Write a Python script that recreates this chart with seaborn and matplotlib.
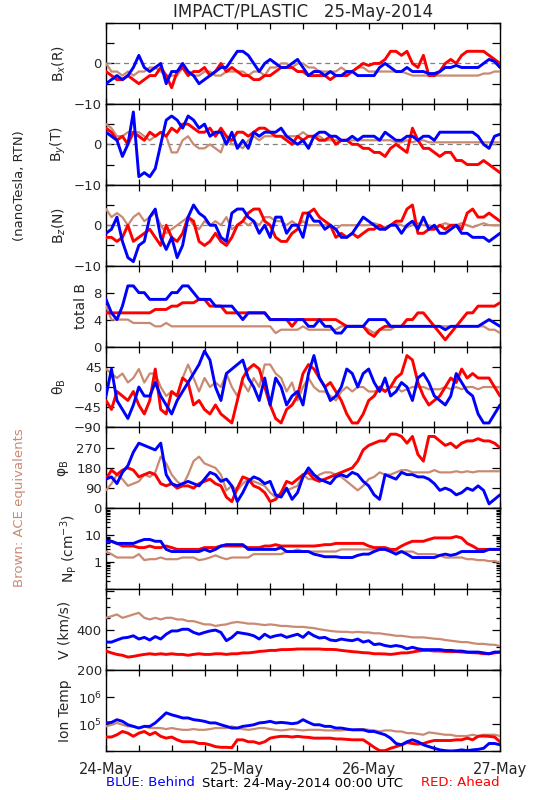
import numpy as np
import matplotlib
matplotlib.use("Agg")
import matplotlib.pyplot as plt
import matplotlib.ticker as mticker
import seaborn as sns

# ---------------- data (hourly readings, 24-May 00:00 .. 27-May 00:00) ----------------
day_labels = ["24-May", "25-May", "26-May", "27-May"]

bx_blue = [-5,-4,-3,-4,-3,-1,2,-1,-2,-1,0,-5,
           -2,-2,0,-2,-3,-5,-4,-3,-2,-1,-1,1,
           3,3,2,0,-2,0,1,0,-1,-1,0,1,
           -1,-3,-2,-2,-3,-2,-3,-3,-2,-2,-3,-3,
           -3,-3,-1,0,-1,-2,-2,-1,-2,-2,-2,-2.5,
           -2.5,-2,-1,-1,-0.5,-1,-1,-1,-1,0,1,0.5,
           -1]
bx_red = [-2,-3,-4,-4,-3,-4,-5,-4,-3,-3,-1,-3,
          -6,-2,-1,-3,-2,-2,-1,-3,-2,0,-2,-1,
          -2,-3,-3,-4,-4,-3,-3,-2,-1,-1,-1,-2,
          -2,-3,-3,-3,-3,-4,-3,-3,-3,-2,-1,0,
          -0.5,0,0,1,3,3,2,3,0,-1,2,-3,
          -3,-2,0,1,0,2,3,3,3,3,2,1,
          0]
bx_brown = [0,-2,-2,-3,-2,-3,-2,-2,-1,-1,-2,-3,
            -3,-3,-1,-2,-3,-3,-2,-2,-3,-3,-2,-2,
            -2,-2,-3,-2,-2,-3,-1,-1,0,0,-1,0,
            0,-1,-1,-2,-2,-2,-2,-1,-2,-2,-1,-1,
            -2,-2,-2,-2,-2,-2,-2,-2.5,-3,-3,-3,-3,
            -3,-3,-3,-3,-3,-3,-3,-3,-3,-2.5,-2.5,-2,
            -2]

by_blue = [3,2,1,-3,0,8,-8,-7,-8,-6,0,6,
           7,6,4,7,6,4,5,2,3,3,0,3,
           -1,1,-1,3,2,3,3,3,4,2,1,0,
           1,-1,2,3,3,2,2,1,1,2,1,2,
           2,2,1,3,2,1,1,2,2,1,2,2,
           1,3,3,3,3,3,3,3,2,0,-1,2,
           2.5]
by_red = [4,3,1,2,0,3,2,1,3,2,3,2,
          4,3,5,5,4,3,3,4,2,4,2,1,
          3,3,2,3,4,4,3,2,2,1,0,2,
          1,2,2,1,1,2,0,1,1,0,0,-1,
          -1,-2,-2,-3,-1,0,-1,-2,4,1,-1,-1,
          -2,-3,-2,-2,-4,-4,-5,-5,-5,-4,-5,-6,
          -7]
by_brown = [5,4,2,2,3,3,3,2,1,2,3,2,
            -2,-2,1,2,0,-1,-1,0,-1,-2,2,0,
            0,-1,1,2,1,2,2,2,2,2,2,2,
            3,2,2,2,1,1,1,1,1,1,1,1,
            1,1,1,1,1,0.5,0.5,1,0.5,1,1,0.5,
            0.5,0.5,0.5,0.5,0.5,0.5,0.5,0.5,0.5,0.5,0.5,0.5,
            0.5]

bz_blue = [-2,-1,2,-4,-8,-9,-5,-4,2,4,-3,-6,
           -3,-8,-5,2,5,3,2,0,0,-3,-4,3,
           4,4,2,1,-2,0,-3,2,2,-2,0,0,
           -3,3,1,1,-1,0,-1,-3,-3,-2,0,2,
           1,0,-1,-1,0,0,-2,0,1,-1,2,-1,
           0,-2,-2,-1,0,-2,-2,-3,-3,-3,-4,-3,
           -2]
bz_red = [-3,-3,-4,-3,0,-4,-3,-2,-1,-3,-5,0,
          -3,-4,-2,2,1,-4,-5,-4,-2,-4,-5,-3,
          0,1,3,4,4,1,0,-3,-4,-4,-2,-1,
          3,3,4,2,1,0,-3,-2,-3,-2,-3,-2,
          -1,-1,0,-1,0,1,1,4,5,-2,-2,-1,
          -1,0,-1,0,0,-1,3,4,2,2,3,2,
          1]
bz_brown = [4,2,3,2,0,2,3,1,2,3,0,-2,
            -1,0,1,2,0,-1,1,0,1,0,2,-1,
            0,1,0,1,0,2,2,1,1,0,1,0,
            1,0,0,0,0,0,-1,0,0,0,0,0,
            0,0.5,0,-0.5,0,0.5,0,-0.5,0,0.5,0,0,
            -0.5,0,0.5,0,0,0.5,0,-0.5,0,0.5,0,0,
            0]

bt_blue = [7,5,4,6,9,9,8,8,7,7,7,7,
           8,8,9,9,8,7,7,7,6,6,6,6,
           5,4,5,5,5,5,4,4,4,4,4,4,
           4,3,3,4,3,3,2,2,3,3,3,3,
           4,4,4,4,3,3,3,3,3,3,3,3,
           3,3,2.5,3,3,3,3,3,3,3.5,4,3.5,
           3]
bt_red = [5,5,5,5,5,5,5,5,5,5.5,5.5,5.5,
          6,6,6.5,6.5,6.5,7,7,6,6,6,5,5,
          5,5,5,5,5,5,4,4,4,4,3,4,
          4,4,4,4,4,4,4,3.5,3,3,3,3,
          2,1.5,2.5,3,3,3,3,4,4,5,5,4,
          3,2,1,2,3,4,5,5,6,6,6,6,
          6.5]
bt_brown = [6,4,4,4,4,3.5,3.5,3.5,3.5,3,3,3.5,
            3,3,3,3,3,3,3,3,3,3,3,3,
            3,3,3,3,3,3,3,2,2.5,2.5,2.5,2.5,
            3,2.5,2.5,2.5,2.5,2.5,2.5,3,3,3,3,3,
            2.5,2,2.5,2.5,2.5,3,3,3,3,3,3,3,
            3,3,3,3,3,3,3,3,3,3,2.5,2.5,
            2]

th_blue = [-20,40,-30,-50,-70,-40,0,-20,-20,10,-20,-40,
           -60,-30,-10,10,30,50,80,60,0,-30,30,40,
           50,60,20,0,-30,20,-40,20,0,-40,-20,-10,
           -40,30,70,20,0,-30,-20,0,40,30,0,30,
           40,10,-10,20,-20,-10,10,0,-30,20,30,10,
           -20,-30,-40,-20,30,10,-10,-20,-60,-80,-80,-60,
           -40]
th_red = [-30,-50,-10,-20,-30,-10,-40,-60,-30,40,-50,-60,
          -10,-20,20,10,-40,-30,-50,-60,-40,-60,-70,-80,
          -30,20,40,50,40,0,-40,-70,-80,-50,-40,-20,
          30,50,40,20,0,10,-10,-30,-60,-80,-80,-60,
          -30,-20,0,-10,0,20,30,70,60,10,-20,-40,
          -30,-20,0,20,10,40,20,30,20,20,20,0,
          -20]
th_brown = [40,30,20,30,10,20,40,10,30,30,0,-20,
            -10,-20,20,50,20,-10,20,0,10,0,30,0,
            -20,10,-10,20,0,50,50,30,20,-10,10,-30,
            0,20,0,-10,-10,-20,-30,-10,0,-10,0,0,
            -10,-10,-5,-10,0,0,-10,-5,0,0,0,-5,
            -5,-5,0,-5,0,-5,0,0,-5,0,0,0,
            0]

ph_blue = [130,140,110,160,190,250,290,280,270,260,290,150,
           110,100,110,120,110,100,130,160,150,120,130,100,
           30,70,120,140,130,110,120,60,50,90,40,70,
           140,180,150,130,120,110,140,150,140,160,150,120,
           100,60,40,150,140,130,160,150,150,140,140,130,
           110,80,90,80,60,70,90,80,100,80,20,40,
           60]
ph_red = [130,170,150,170,180,170,140,150,160,150,110,100,
          110,90,100,100,90,110,120,130,110,100,50,30,
          90,140,130,100,90,70,30,40,70,120,110,130,
          150,160,130,120,130,140,150,160,170,180,210,260,
          280,290,300,300,330,330,320,290,320,240,210,320,
          320,300,280,290,270,290,300,300,310,300,300,290,
          270]
ph_brown = [80,110,150,130,100,110,120,150,140,160,230,200,
            150,120,100,150,210,230,200,190,180,150,80,100,
            80,110,130,120,110,100,70,50,60,80,90,100,
            150,130,130,150,160,160,150,140,120,100,80,100,
            130,140,160,150,150,160,170,170,160,160,160,160,
            170,160,160,160,165,160,165,160,165,165,165,165,
            165]

np_blue = [6,6,5,5,5,5,6,7,7,6,6,3,
           2.5,2.5,2.5,2.5,2.5,2.5,3,2.5,3,4,4.5,4.5,
           4.5,4.5,3,3,3,3,3,3,3.5,2.5,2.5,2.5,
           2.5,2.5,2,1.8,1.6,1.6,1.6,1.5,1.5,1.5,1.8,2,
           2,2.5,3,3,2.5,2,2.5,2,1.5,1.5,1.5,1.5,
           1.5,1.8,2,1.8,2,2.5,2.5,2.5,2.5,2.5,3,3,
           3]
np_red = [6,6,5,4,4,4,3.5,3.5,4,3.5,3.5,4,
          3.5,3,3,3,3,3,3.5,3.5,3.5,4,4,4,
          4,4,3.5,3.5,3.5,4,4,4.5,4,4,4,4,
          4,4,4,4.2,4.5,4.5,5,5,5,5,5,5,
          4,3.5,3.5,3.5,3,3,4,5,6,6,6,7,
          8,8,8,8,9,8,5,4,3,3,3,3,
          3]
np_brown = [2.5,2,1.5,1.5,1.5,1.5,2,1.2,1.3,1.3,1.5,1.3,
            1.3,1.3,1.5,1.5,1.5,1.2,1.3,1.5,1.8,1.5,1.3,1.5,
            1.5,1.5,1.5,2,2,2,2,2,2,2.5,2.5,3,
            2.5,2.5,2.5,2.5,2.5,2.5,2.5,3,3,3,3,3,
            3,3,3,3,3,2.5,2.5,2.5,2.5,2,2,2,
            2,1.8,1.5,1.5,1.5,1.5,1.3,1.3,1.2,1.2,1.1,1.1,
            1]

v_brown = [498,512,528,498,512,528,543,498,484,498,484,498,
           498,484,484,470,470,457,444,444,432,439,444,457,
           463,457,450,450,444,439,444,439,432,432,427,425,
           425,420,416,408,402,396,392,390,390,386,390,386,
           386,380,380,374,370,364,364,359,354,354,354,350,
           346,344,338,334,330,326,326,320,316,316,312,311,
           304]
v_blue = [326,326,338,350,354,364,344,354,338,359,344,374,
          396,396,408,408,386,374,386,396,402,386,334,354,
          386,380,374,364,344,374,354,364,370,354,364,374,
          354,386,364,350,354,338,334,344,338,334,344,326,
          334,312,316,307,302,307,302,290,298,290,286,286,
          286,286,282,282,279,279,274,274,274,270,266,274,
          274]
v_red = [279,270,263,259,251,254,259,263,266,263,266,263,
         266,263,263,259,263,266,263,263,266,266,263,266,
         266,270,270,273,277,279,282,282,286,286,287,289,
         289,289,289,289,287,287,286,282,279,276,274,271,
         270,266,266,265,263,266,270,270,274,279,282,282,
         279,279,277,276,276,274,273,271,270,266,266,270,
         274]

t_blue = [1.1e5,1.15e5,1.45e5,1.26e5,9.4e4,8.2e4,7.1e4,8.2e4,8.2e4,1.1e5,1.68e5,2.6e5,
          2.2e5,1.94e5,1.68e5,1.68e5,1.45e5,1.37e5,1.26e5,1.1e5,1.1e5,9.4e4,8.2e4,7.1e4,
          7.1e4,8.2e4,8.7e4,9.4e4,1.1e5,1.15e5,1.26e5,1.1e5,1.15e5,1.1e5,1.03e5,1.1e5,
          1.45e5,1.15e5,9.4e4,9.4e4,8.2e4,8.2e4,7.1e4,7.1e4,6.5e4,6.1e4,6.1e4,6.1e4,
          5.3e4,5.3e4,4.6e4,4.0e4,3.0e4,1.9e4,1.7e4,2.2e4,2.6e4,2.2e4,1.7e4,1.45e4,
          1.26e4,1.1e4,1.03e4,1.0e4,1.03e4,1.1e4,1.03e4,1.1e4,1.15e4,1.26e4,1.9e4,1.9e4,
          1.7e4]
t_red = [3.3e4,3.3e4,4.0e4,5.3e4,4.6e4,3.5e4,4.6e4,5.3e4,4.0e4,4.9e4,3.5e4,3.0e4,
         3.3e4,2.6e4,2.2e4,2.2e4,2.2e4,1.9e4,1.9e4,1.7e4,1.45e4,1.37e4,1.37e4,1.33e4,
         2.6e4,2.6e4,2.2e4,2.2e4,1.9e4,2.2e4,3.0e4,3.3e4,3.5e4,3.5e4,3.3e4,3.5e4,
         3.3e4,3.2e4,3.0e4,3.0e4,3.0e4,3.0e4,2.8e4,2.8e4,2.7e4,2.6e4,2.6e4,2.6e4,
         1.9e4,1.37e4,1.03e4,1.03e4,1.26e4,1.45e4,1.7e4,2.05e4,1.9e4,1.8e4,1.9e4,2.2e4,
         2.45e4,2.45e4,2.45e4,2.45e4,2.6e4,2.6e4,3.0e4,2.6e4,3.5e4,3.6e4,3.5e4,3.3e4,
         2.2e4]
t_brown = [8.2e4,9.4e4,1.1e5,9.4e4,8.2e4,8.2e4,7.1e4,8.2e4,7.1e4,7.1e4,7.1e4,6.5e4,
           7.1e4,6.5e4,6.1e4,6.1e4,6.5e4,6.1e4,6.1e4,6.5e4,7.1e4,7.1e4,7.1e4,8.2e4,
           7.1e4,6.5e4,6.1e4,6.5e4,7.1e4,7.1e4,6.5e4,6.1e4,5.8e4,6.1e4,6.5e4,6.1e4,
           5.8e4,6.1e4,6.1e4,6.1e4,5.8e4,5.8e4,5.8e4,5.8e4,6.1e4,6.1e4,6.5e4,6.5e4,
           6.1e4,5.8e4,5.3e4,5.8e4,5.8e4,5.3e4,5.3e4,4.6e4,4.6e4,4.3e4,4.0e4,4.9e4,
           4.6e4,4.3e4,4.0e4,4.0e4,3.6e4,3.6e4,3.6e4,4.0e4,3.6e4,4.0e4,4.0e4,4.0e4,
           3.6e4]

# ---------------- style ----------------
sns.set_style("ticks")
plt.rcParams["font.family"] = ["DejaVu Sans"]

BLUE = "#0000FF"
RED = "#FF0000"
BROWN = "#C98A72"

panels = [
    dict(series=(bx_brown, bx_red, bx_blue), ylabel="B$_x$(R)", ylim=(-10, 10),
         ticks=[-10, -5, 0, 5, 10], labels=["\u221210", "", "0", "", ""], zero=True),
    dict(series=(by_brown, by_red, by_blue), ylabel="B$_y$(T)", ylim=(-10, 10),
         ticks=[-10, -5, 0, 5, 10], labels=["\u221210", "", "0", "", ""], zero=True),
    dict(series=(bz_brown, bz_red, bz_blue), ylabel="B$_z$(N)", ylim=(-10, 10),
         ticks=[-10, -5, 0, 5, 10], labels=["\u221210", "", "0", "", ""], zero=True),
    dict(series=(bt_brown, bt_red, bt_blue), ylabel="total B", ylim=(0, 12),
         ticks=[0, 4, 8, 12], labels=["0", "4", "8", ""], zero=False),
    dict(series=(th_brown, th_red, th_blue), ylabel="\u03b8$_{\\rm B}$", ylim=(-90, 90),
         ticks=[-90, -45, 0, 45, 90], labels=["\u221290", "\u221245", "0", "45", ""], zero=False),
    dict(series=(ph_brown, ph_red, ph_blue), ylabel="\u03c6$_{\\rm B}$", ylim=(0, 360),
         ticks=[0, 90, 180, 270, 360], labels=["0", "90", "180", "270", ""], zero=False),
    dict(series=(np_brown, np_red, np_blue), ylabel="N$_{\\rm P}$ (cm$^{-3}$)", ylim=(0.1, 100),
         ticks=[0.1, 1, 10, 100], labels=["", "1", "10", ""], zero=False, log=True),
    dict(series=(v_brown, v_red, v_blue), ylabel="V (km/s)", ylim=(200, 820),
         ticks=[200, 400, 800], labels=["200", "400", ""], zero=False, log=True,
         minor=[300, 500, 600, 700]),
    dict(series=(t_brown, t_red, t_blue), ylabel="Ion Temp", ylim=(1e4, 1e7),
         ticks=[1e4, 1e5, 1e6, 1e7], labels=["", "10$^5$", "10$^6$", ""], zero=False, log=True),
]

fig = plt.figure(figsize=(5.5, 8), dpi=100)
axes = fig.subplots(9, 1, sharex=True,
                    gridspec_kw=dict(left=106/550, right=500/550, top=1-23/800,
                                     bottom=1-751/800, hspace=0))

colors = (BROWN, RED, BLUE)
widths = (1.6, 2.1, 2.1)

for ax, p in zip(axes, panels):
    if p.get("log"):
        ax.set_yscale("log")
    if p["zero"]:
        ax.axhline(0, color="#808080", ls=(0, (4, 3)), lw=0.9, zorder=1)
    for vals, c, w in zip(p["series"], colors, widths):
        t = np.linspace(0, 72, len(vals))
        sns.lineplot(x=t, y=vals, ax=ax, color=c, lw=w, estimator=None,
                     sort=False, legend=False, zorder=3)
    ax.set_ylim(*p["ylim"])
    ax.set_xlim(0, 72)
    ax.yaxis.set_major_locator(mticker.FixedLocator(p["ticks"]))
    ax.yaxis.set_major_formatter(mticker.FixedFormatter(p["labels"]))
    if p.get("log"):
        if "minor" in p:
            ax.yaxis.set_minor_locator(mticker.FixedLocator(p["minor"]))
        else:
            ax.yaxis.set_minor_locator(mticker.LogLocator(base=10, subs=np.arange(2, 10)))
        ax.yaxis.set_minor_formatter(mticker.NullFormatter())
    else:
        ax.yaxis.set_minor_locator(mticker.NullLocator())
    ax.xaxis.set_major_locator(mticker.FixedLocator([0, 24, 48, 72]))
    ax.xaxis.set_minor_locator(mticker.FixedLocator(list(range(0, 73, 6))))
    ax.tick_params(axis="both", which="both", direction="in", top=True, right=True,
                   labelsize=9.5, width=0.9, color="black", pad=3)
    ax.tick_params(axis="y", which="major", length=6)
    ax.tick_params(axis="y", which="minor", length=3)
    ax.tick_params(axis="x", which="both", length=4)
    ax.set_ylabel(p["ylabel"], fontsize=10, labelpad=4)
    for s in ax.spines.values():
        s.set_linewidth(1.0)
        s.set_color("black")
    ax.set_facecolor("white")

axes[-1].set_xticklabels(day_labels, fontsize=10.5)
axes[-1].tick_params(axis="x", which="major", pad=8)
for ax in axes[:-1]:
    ax.tick_params(axis="x", labelbottom=False)

fig.text(303/550, 1-12/800, "IMPACT/PLASTIC   25-May-2014", ha="center", va="center",
         fontsize=12)
fig.text(20/550, 1-186/800, "(nanoTesla, RTN)", rotation=90, ha="center", va="center",
         fontsize=9.5)
fig.text(20/550, 1-508/800, "Brown: ACE equivalents", rotation=90, ha="center",
         va="center", fontsize=9.5, color=BROWN)
fig.text(106/550, 1-783/800, "BLUE: Behind", color=BLUE, ha="left", va="center",
         fontsize=9.5)
fig.text(303/550, 1-783/800, "Start: 24-May-2014 00:00 UTC", color="black",
         ha="center", va="center", fontsize=9.5)
fig.text(500/550, 1-783/800, "RED: Ahead", color=RED, ha="right", va="center",
         fontsize=9.5)

fig.savefig("out.png", dpi=100, facecolor="white")
